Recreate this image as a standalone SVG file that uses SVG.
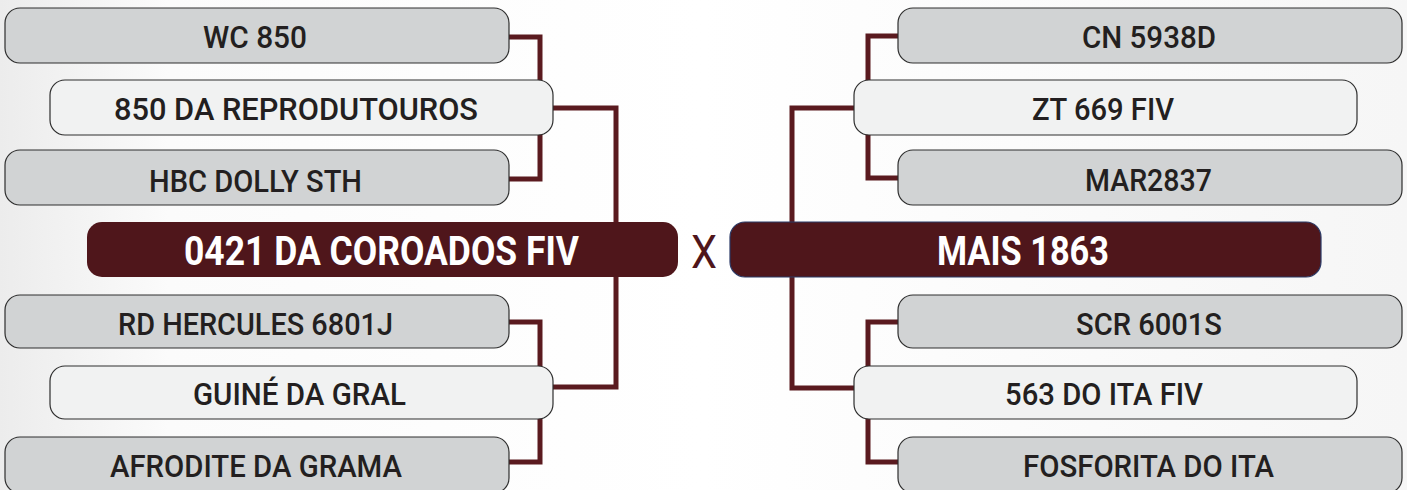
<svg xmlns="http://www.w3.org/2000/svg" width="1407" height="490" viewBox="0 0 1407 490">
<defs>
<linearGradient id="bg" x1="0" y1="0" x2="1" y2="0">
<stop offset="0" stop-color="#ececec"/>
<stop offset="0.12" stop-color="#fbfbfb"/>
<stop offset="0.5" stop-color="#ffffff"/>
<stop offset="1" stop-color="#f6f6f6"/>
</linearGradient>
<style>
.gray{fill:#d1d3d4;stroke:#2e2e2e;stroke-width:1.2}
.light{fill:#f1f2f2;stroke:#2e2e2e;stroke-width:1.2}
.dark{fill:#4f161b}
.darkb{fill:#4f161b;stroke:#2b3a67;stroke-width:1.2}
.lbl{font-family:Roboto,"Liberation Sans",sans-serif;font-size:32px;font-weight:500;fill:#231f20}
.big{font-family:Roboto,"Liberation Sans",sans-serif;font-size:41px;font-weight:700;fill:#ffffff}
.vs{font-family:Roboto,"Liberation Sans",sans-serif;font-size:46px;fill:#4f161b}
.con{fill:none;stroke:#5a1a1f;stroke-width:5;stroke-linejoin:miter}
</style>
</defs>
<rect x="0" y="0" width="1407" height="490" fill="url(#bg)"/>

<g id="connectors">
<path class="con" d="M505,37 H540 V179 H505"/>
<path class="con" d="M549,108 H616 V387 H549"/>
<path class="con" d="M505,322 H540 V462 H505"/>
<path class="con" d="M902,36 H868 V178 H902"/>
<path class="con" d="M858,108 H792 V388 H858"/>
<path class="con" d="M902,322 H868 V462 H902"/>
</g>

<g id="n-wc850"><rect class="gray" x="5" y="8" width="504" height="55" rx="15"/><text class="lbl" x="203" y="48" textLength="104" lengthAdjust="spacingAndGlyphs">WC 850</text></g>
<g id="n-850da"><rect class="light" x="50" y="80" width="503" height="55" rx="15"/><text class="lbl" x="114" y="120" textLength="364" lengthAdjust="spacingAndGlyphs">850 DA REPRODUTOUROS</text></g>
<g id="n-hbc"><rect class="gray" x="5" y="150" width="504" height="55" rx="15"/><text class="lbl" x="149" y="192" textLength="213" lengthAdjust="spacingAndGlyphs">HBC DOLLY STH</text></g>
<g id="n-0421"><rect class="dark" x="87" y="222" width="591" height="55" rx="15"/><text class="big" x="184" y="265" textLength="395" lengthAdjust="spacingAndGlyphs">0421 DA COROADOS FIV</text></g>
<g id="n-rd"><rect class="gray" x="5" y="295" width="504" height="53" rx="15"/><text class="lbl" x="118" y="335" textLength="275" lengthAdjust="spacingAndGlyphs">RD HERCULES 6801J</text></g>
<g id="n-guine"><rect class="light" x="50" y="366" width="503" height="53" rx="15"/><text class="lbl" x="193" y="405" textLength="213" lengthAdjust="spacingAndGlyphs">GUINÉ DA GRAL</text></g>
<g id="n-afrodite"><rect class="gray" x="5" y="437" width="504" height="56" rx="15"/><text class="lbl" x="110" y="477" textLength="292" lengthAdjust="spacingAndGlyphs">AFRODITE DA GRAMA</text></g>

<text class="vs" x="691" y="268" textLength="26" lengthAdjust="spacingAndGlyphs">X</text>

<g id="n-cn"><rect class="gray" x="898" y="8" width="504" height="55" rx="15"/><text class="lbl" x="1082" y="48" textLength="134" lengthAdjust="spacingAndGlyphs">CN 5938D</text></g>
<g id="n-zt"><rect class="light" x="854" y="80" width="503" height="55" rx="15"/><text class="lbl" x="1032" y="120" textLength="142" lengthAdjust="spacingAndGlyphs">ZT 669 FIV</text></g>
<g id="n-mar"><rect class="gray" x="898" y="150" width="504" height="55" rx="15"/><text class="lbl" x="1085" y="191" textLength="127" lengthAdjust="spacingAndGlyphs">MAR2837</text></g>
<g id="n-mais"><rect class="darkb" x="730" y="222" width="591" height="55" rx="15"/><text class="big" x="937" y="265" textLength="172" lengthAdjust="spacingAndGlyphs">MAIS 1863</text></g>
<g id="n-scr"><rect class="gray" x="898" y="295" width="504" height="53" rx="15"/><text class="lbl" x="1076" y="335" textLength="146" lengthAdjust="spacingAndGlyphs">SCR 6001S</text></g>
<g id="n-563"><rect class="light" x="854" y="366" width="503" height="53" rx="15"/><text class="lbl" x="1005" y="405" textLength="198" lengthAdjust="spacingAndGlyphs">563 DO ITA FIV</text></g>
<g id="n-fosforita"><rect class="gray" x="898" y="437" width="504" height="56" rx="15"/><text class="lbl" x="1023" y="477" textLength="251" lengthAdjust="spacingAndGlyphs">FOSFORITA DO ITA</text></g>
</svg>
